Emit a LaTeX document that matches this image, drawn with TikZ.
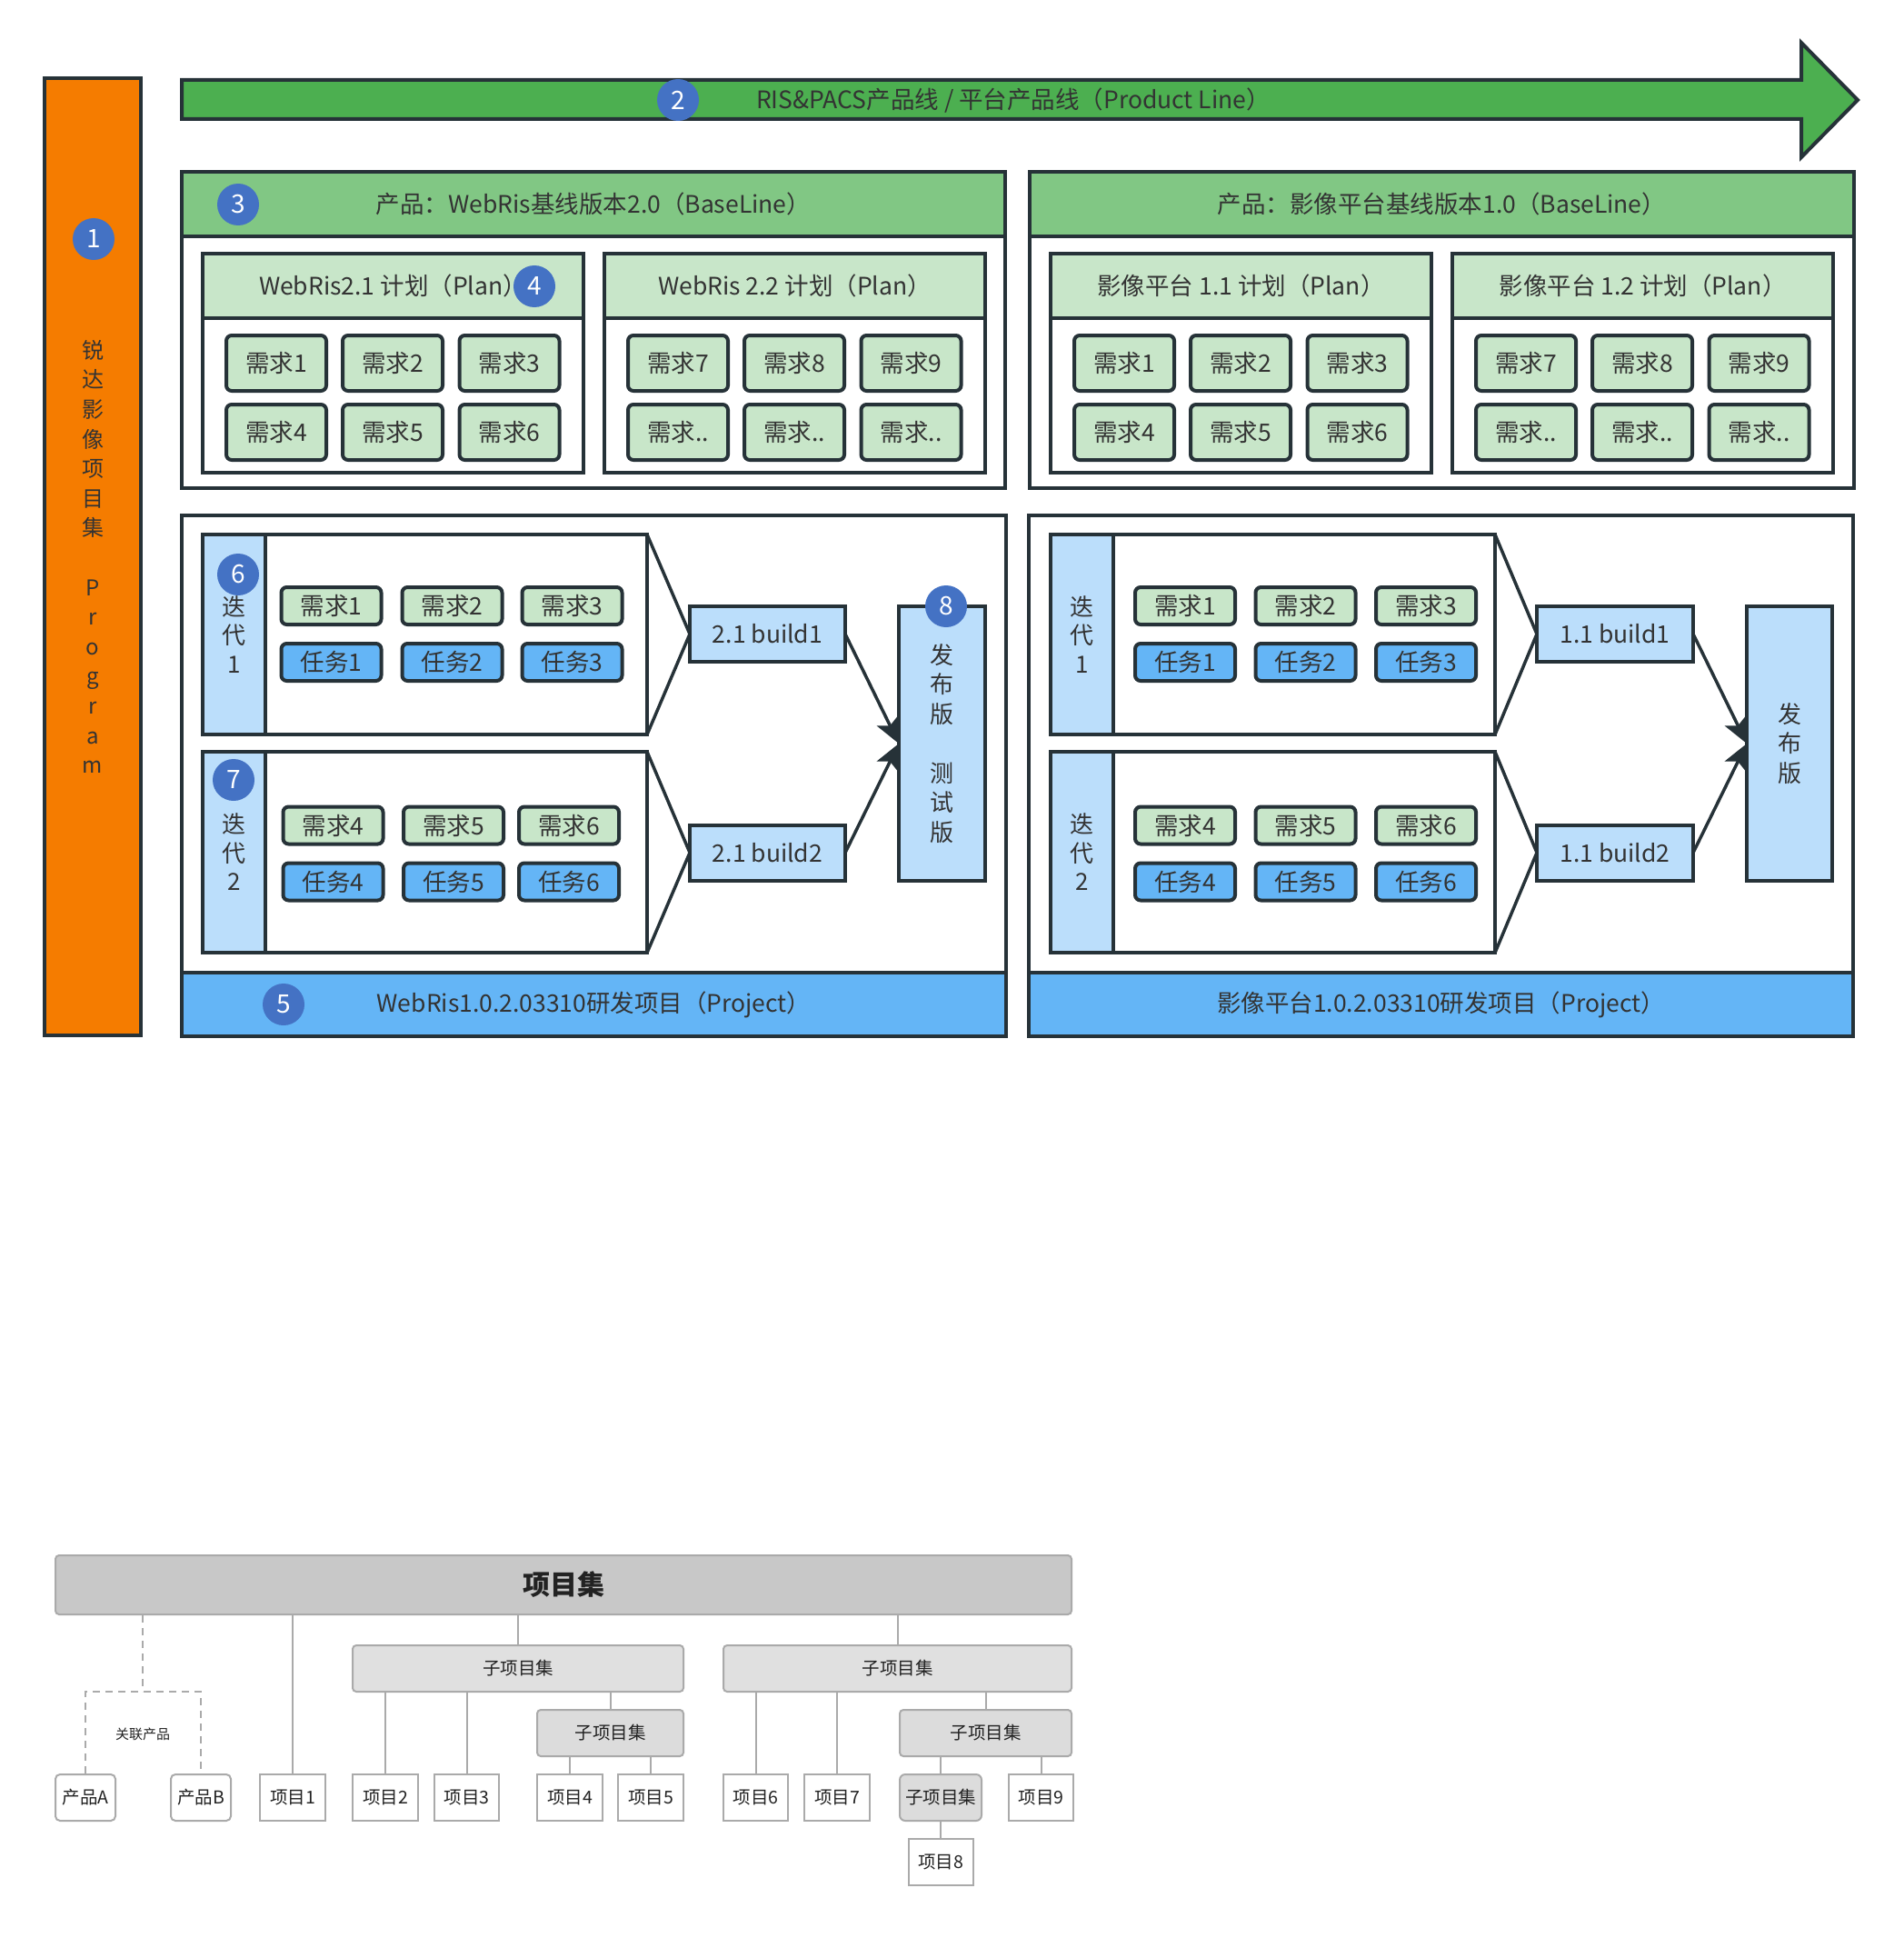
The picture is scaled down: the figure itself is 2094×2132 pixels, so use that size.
\documentclass[tikz,border=0pt]{standalone}
\usepackage{fontspec}
\setmainfont{Noto Sans CJK SC}
\usetikzlibrary{arrows.meta}
\definecolor{bdc}{HTML}{263238}
\definecolor{orng}{HTML}{F57C00}
\definecolor{dgrn}{HTML}{4CAF50}
\definecolor{mgrn}{HTML}{81C784}
\definecolor{lgrn}{HTML}{C8E6C9}
\definecolor{lblu}{HTML}{BBDEFB}
\definecolor{mblu}{HTML}{64B5F6}
\definecolor{bdg}{HTML}{4472C4}
\definecolor{txc}{HTML}{333333}
\definecolor{ogray}{HTML}{AAAAAA}
\definecolor{ofill}{HTML}{C8C8C8}
\definecolor{sfill}{HTML}{E0E0E0}
\definecolor{ssfill}{HTML}{DCDCDC}
\definecolor{otxt}{HTML}{222222}
\newcommand\fsz[2]{\fontsize{#1pt}{#2pt}\selectfont}
\begin{document}
\begin{tikzpicture}[x=1pt,y=-1pt,
  box/.style={draw=bdc,line width=4pt,inner sep=0pt,outer sep=0pt},
  txt/.style={text=txc,font=\fsz{26.5}{32}},
  reqbox/.style={box,rounded corners=6pt,fill=lgrn,minimum width=110pt,minimum height=61pt,txt},
  sbox/.style={box,rounded corners=6pt,minimum width=110pt,minimum height=41pt,txt},
  sreq/.style={sbox,fill=lgrn},
  stask/.style={sbox,fill=mblu},
  badge/.style={circle,fill=bdg,minimum size=46pt,inner sep=0pt,text=white,font=\fsz{28}{30}},
  conn/.style={draw=bdc,line width=3.5pt},
  arr/.style={conn,-{Stealth[length=28pt,width=26pt,inset=6pt]}},
  oline/.style={draw=ogray,line width=2pt},
  obox/.style={draw=ogray,line width=2pt,fill=white,minimum height=51pt,inner sep=0pt,text=otxt,font=\fsz{19.5}{22}},
  osub/.style={obox,fill=sfill,rounded corners=4pt},
]
\useasboundingbox (0,0) rectangle (2094,2132);

% program bar
\node[box,fill=orng,minimum width=106pt,minimum height=1053pt,txt,align=center,font=\fsz{24}{32.6}] (prog) at (102,612.5)
  {锐\\达\\影\\像\\项\\目\\集\\\strut\\P\\r\\o\\g\\r\\a\\m};

% product line arrow
\draw[box,fill=dgrn] (200,88) -- (1982,88) -- (1982,47) -- (2044,110) -- (1982,173) -- (1982,131) -- (200,131) -- cycle;
\node[txt] (pline) at (1115,111) {RIS\&PACS产品线 / 平台产品线（Product Line）};

% product baselines
\node[box,fill=white,minimum width=906pt,minimum height=348pt,anchor=north west] (prodL) at (200,189) {};
\node[box,fill=mgrn,minimum width=906pt,minimum height=71pt,anchor=north west,txt] (prodLh) at (200,189) {产品：WebRis基线版本2.0（BaseLine）};
\node[box,fill=white,minimum width=907pt,minimum height=348pt,anchor=north west] (prodR) at (1133,189) {};
\node[box,fill=mgrn,minimum width=907pt,minimum height=71pt,anchor=north west,txt] (prodRh) at (1133,189) {产品：影像平台基线版本1.0（BaseLine）};

% plans
\foreach \L/\P/\T in {223/A/{WebRis2.1 计划（Plan）},665/B/{WebRis 2.2 计划（Plan）},1156/C/{影像平台 1.1 计划（Plan）},1598/D/{影像平台 1.2 计划（Plan）}}{
  \node[box,fill=white,minimum width=419pt,minimum height=241pt,anchor=north west] (plan\P) at (\L,279) {};
  \node[box,fill=lgrn,minimum width=419pt,minimum height=71pt,anchor=north west,txt] (plan\P h) at (\L,279) {\T};
}
\foreach \L/\P/\ta/\tb/\tc/\td/\te/\tf in {223/A/1/2/3/4/5/6,665/B/7/8/9/../../..,1156/C/1/2/3/4/5/6,1598/D/7/8/9/../../..}{
  \node[reqbox] (pr\P a) at ({\L+81},399.5) {需求\ta};
  \node[reqbox] (pr\P b) at ({\L+209},399.5) {需求\tb};
  \node[reqbox] (pr\P c) at ({\L+337.5},399.5) {需求\tc};
  \node[reqbox] (pr\P d) at ({\L+81},475.5) {需求\td};
  \node[reqbox] (pr\P e) at ({\L+209},475.5) {需求\te};
  \node[reqbox] (pr\P f) at ({\L+337.5},475.5) {需求\tf};
}

% projects
\node[box,fill=white,minimum width=907pt,minimum height=573pt,anchor=north west] (projL) at (200,567) {};
\node[box,fill=mblu,minimum width=907pt,minimum height=70pt,anchor=north west,txt] (projLb) at (200,1070) {WebRis1.0.2.03310研发项目（Project）};
\node[box,fill=white,minimum width=907pt,minimum height=573pt,anchor=north west] (projR) at (1132,567) {};
\node[box,fill=mblu,minimum width=907pt,minimum height=70pt,anchor=north west,txt] (projRb) at (1132,1070) {影像平台1.0.2.03310研发项目（Project）};

% iterations
\foreach \L/\P in {223/L,1156/R}{
  \node[box,fill=white,minimum width=489pt,minimum height=220pt,anchor=north west] (it\P1) at (\L,588) {};
  \node[box,fill=lblu,minimum width=69pt,minimum height=220pt,anchor=north west,txt,align=center,font=\fsz{26}{31.5}] (it\P1s) at (\L,588) {迭\\代\\1};
  \node[box,fill=white,minimum width=489pt,minimum height=221pt,anchor=north west] (it\P2) at (\L,827) {};
  \node[box,fill=lblu,minimum width=69pt,minimum height=221pt,anchor=north west,txt,align=center,font=\fsz{26}{31.5}] (it\P2s) at (\L,827) {迭\\代\\2};
}
\foreach \x/\n in {364.5/1,497.5/2,629.5/3}{
  \node[sreq] (Lq\n) at (\x,666.5) {需求\n};
  \node[stask] (Lt\n) at (\x,728.5) {任务\n};
}
\foreach \x/\n in {366.5/4,499/5,626/6}{
  \node[sreq] (Lq\n) at (\x,908) {需求\n};
  \node[stask] (Lt\n) at (\x,970) {任务\n};
}
\foreach \x/\n/\m in {1304/1/4,1436.5/2/5,1569/3/6}{
  \node[sreq] (Rq\n) at (\x,666.5) {需求\n};
  \node[stask] (Rt\n) at (\x,728.5) {任务\n};
  \node[sreq] (Rq\m) at (\x,908) {需求\m};
  \node[stask] (Rt\m) at (\x,970) {任务\m};
}

% builds and releases
\node[box,fill=lblu,minimum width=171pt,minimum height=61pt,txt] (bL1) at (844.5,697.5) {2.1 build1};
\node[box,fill=lblu,minimum width=171pt,minimum height=61pt,txt] (bL2) at (844.5,938) {2.1 build2};
\node[box,fill=lblu,minimum width=95pt,minimum height=302pt,txt,align=center,font=\fsz{26}{32.5}] (rL) at (1036.5,818) {发\\布\\版\\\strut\\测\\试\\版};
\node[box,fill=lblu,minimum width=172pt,minimum height=61pt,txt] (bR1) at (1777,697.5) {1.1 build1};
\node[box,fill=lblu,minimum width=172pt,minimum height=61pt,txt] (bR2) at (1777,938) {1.1 build2};
\node[box,fill=lblu,minimum width=94pt,minimum height=302pt,txt,align=center,font=\fsz{26}{32.5}] (rR) at (1969,818) {发\\布\\版};

\foreach \P in {L,R}{
  \draw[conn] (it\P1.north east) -- (b\P1.west) -- (it\P1.south east);
  \draw[conn] (it\P2.north east) -- (b\P2.west) -- (it\P2.south east);
  \draw[arr] (b\P1.east) -- (r\P.west);
  \draw[arr] (b\P2.east) -- (r\P.west);
}

% badges
\node[badge] (n1) at (103,263) {1};
\node[badge] (n2) at (746,110) {2};
\node[badge] (n3) at (262,225) {3};
\node[badge] (n4) at (588,315) {4};
\node[badge] (n5) at (312,1105) {5};
\node[badge] (n6) at (262,632) {6};
\node[badge] (n7) at (257,858) {7};
\node[badge] (n8) at (1041,667) {8};

% ---------- org chart ----------
\node[obox,fill=ofill,rounded corners=4pt,minimum width=1118pt,minimum height=65pt,font=\fsz{30}{34}\bfseries] (top) at (620,1743.5) {项目集};
\node[osub,minimum width=364pt] (s1) at (570,1835.5) {子项目集};
\node[osub,fill=ssfill,minimum width=161pt] (ss1) at (671.5,1906.5) {子项目集};
\node[osub,minimum width=383pt] (s2) at (987.5,1835.5) {子项目集};
\node[osub,fill=ssfill,minimum width=189pt] (ss2) at (1084.5,1906.5) {子项目集};

\node[obox,rounded corners=5pt,minimum width=66pt] (pA) at (94,1977.5) {产品A};
\node[obox,rounded corners=5pt,minimum width=66pt] (pB) at (221,1977.5) {产品B};
\node[obox,minimum width=72pt] (p1) at (322,1977.5) {项目1};
\node[obox,minimum width=72pt] (p2) at (424,1977.5) {项目2};
\node[obox,minimum width=71pt] (p3) at (513.5,1977.5) {项目3};
\node[obox,minimum width=72pt] (p4) at (627,1977.5) {项目4};
\node[obox,minimum width=72pt] (p5) at (716,1977.5) {项目5};
\node[obox,minimum width=71pt] (p6) at (831.5,1977.5) {项目6};
\node[obox,minimum width=72pt] (p7) at (921,1977.5) {项目7};
\node[osub,fill=ssfill,rounded corners=6pt,minimum width=90pt] (ss3) at (1035,1977.5) {子项目集};
\node[obox,minimum width=71pt] (p9) at (1145.5,1977.5) {项目9};
\node[obox,minimum width=71pt] (p8) at (1035,2048) {项目8};

\coordinate (relc) at (157,1861);
\node[text=otxt,font=\fsz{15}{18},inner sep=0pt] (rel) at (157,1908) {关联产品};
\draw[oline,dashed,dash pattern=on 8pt off 6pt] (top.south -| relc) -- (relc);
\draw[oline,dashed,dash pattern=on 8pt off 6pt] (pA.north) |- (relc) -| (pB.north);

\draw[oline] (top.south -| p1.north) -- (p1.north);
\draw[oline] (top.south -| s1.north) -- (s1.north);
\draw[oline] (top.south -| s2.north) -- (s2.north);
\draw[oline] (s1.south -| p2.north) -- (p2.north);
\draw[oline] (s1.south -| p3.north) -- (p3.north);
\draw[oline] (s1.south -| ss1.north) -- (ss1.north);
\draw[oline] (ss1.south -| p4.north) -- (p4.north);
\draw[oline] (ss1.south -| p5.north) -- (p5.north);
\draw[oline] (s2.south -| p6.north) -- (p6.north);
\draw[oline] (s2.south -| p7.north) -- (p7.north);
\draw[oline] (s2.south -| ss2.north) -- (ss2.north);
\draw[oline] (ss2.south -| ss3.north) -- (ss3.north);
\draw[oline] (ss2.south -| p9.north) -- (p9.north);
\draw[oline] (ss3.south) -- (p8.north);
\end{tikzpicture}
\end{document}
